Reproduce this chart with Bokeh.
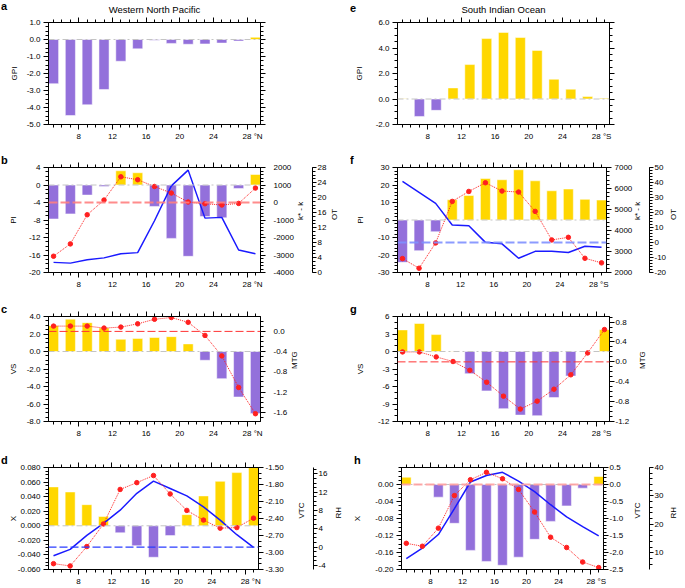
import math
import json
from bokeh.plotting import figure
from bokeh.models import (Range1d, LinearAxis, FixedTicker, Span,
                          CustomJSTickFormatter, PrintfTickFormatter, ColumnDataSource)
from bokeh.layouts import column, row
from bokeh.embed import file_html
from bokeh.resources import INLINE

# ---------------- data ----------------
lat = [5, 7, 9, 11, 13, 15, 17, 19, 21, 23, 25, 27, 29]
lat_ticks = [8, 12, 16, 20, 24, 28]
lat_minor = list(range(5, 30))

titles = ["Western North Pacific", "South Indian Ocean"]

gpi_wnp = [-2.6, -4.47, -3.84, -2.94, -1.28, -0.55, -0.04, -0.23, -0.28, -0.26, -0.21, -0.09, 0.13]
gpi_sio = [0.02, -1.37, -0.89, 0.87, 2.7, 4.74, 5.22, 4.82, 3.81, 1.55, 0.77, 0.19, 0.06]

pi_wnp = [-7.77, -6.6, -2.3, -0.33, 3.25, 2.8, -4.9, -12.2, -16.3, -7.2, -7.5, -0.79, 2.4]
kk_wnp = [-3070, -2366, -700, 140, 1470, 1300, 915, 540, 28, -70, -143, -52, 826]
ot_wnp = [2.7, 2.5, 3.4, 3.9, 5.0, 5.3, 13.8, 23.1, 27.3, 14.5, 14.7, 6.0, 5.0]

pi_sio = [-24.2, -17.5, -6.7, 11.6, 14.0, 23.7, 23.0, 28.7, 22.4, 16.7, 17.7, 11.8, 11.4]
kk_sio = [2663, 2203, 3409, 5385, 5860, 6273, 5879, 5831, 4910, 3551, 3675, 2677, 2459]
ot_sio = [40.7, 33.4, 26.1, 11.7, 11.2, 0.1, -0.9, -10.5, -5.9, -5.9, -6.7, -2.5, -3.2]

vs_wnp = [2.95, 3.7, 3.3, 2.7, 1.4, 1.5, 1.6, 1.7, 0.87, -1.0, -3.1, -5.2, -7.08]
mtg_wnp = [0.105, 0.105, 0.105, 0.066, 0.085, 0.15, 0.24, 0.275, 0.18, -0.08, -0.485, -1.11, -1.63]

vs_sio = [3.7, 4.8, 2.9, 0.05, -3.8, -6.75, -9.8, -10.9, -11.0, -7.9, -4.2, 0.0, 3.75]
mtg_sio = [0.2, 0.2, 0.1, 0.007, -0.17, -0.41, -0.69, -0.95, -0.79, -0.55, -0.26, 0.18, 0.65]

x_wnp = [0.0534, 0.0464, 0.029, 0.0127, -0.0096, -0.0273, -0.0432, -0.0135, 0.0153, 0.041, 0.061, 0.073, 0.082]
vtc_wnp = [-3.197, -3.237, -2.895, -2.496, -1.887, -1.767, -1.642, -1.967, -2.257, -2.428, -2.57, -2.56, -2.394]
rh_wnp = [-1.89, -0.5, 2.56, 5.19, 8.07, 11.76, 14.43, 12.82, 11.19, 8.79, 5.89, 2.71, -0.05]

x_sio = [0.0172, 0.0, -0.0298, -0.0913, -0.155, -0.181, -0.190, -0.171, -0.129, -0.0868, -0.0503, -0.0086, 0.0188]
vtc_sio = [-1.73, -1.816, -1.284, -0.326, 0.141, 0.358, 0.169, -0.144, -0.81, -1.551, -1.853, -2.28, -2.443]
rh_sio = [7.95, 11.6, 16.4, 25.5, 34.9, 37.2, 38.3, 35.2, 31.5, 26.9, 22.6, 19.2, 15.9]

# ---------------- style ----------------
FONT = "Liberation Sans"
FS = "8px"
PURPLE, GOLD = "#9370db", "#ffd700"
RED, BLUE = "#ff2020", "#1a1aff"
NB = "\u00a0"
W = {0: 350, 1: 335}
MBL = {0: 48, 1: 47}
MBR = {0: 90, 1: 76}
FW, FH = 212, 105
ROWS = [dict(h=148, t=19, b=24), dict(h=148, t=19, b=24),
        dict(h=150, t=20, b=25), dict(h=142, t=21, b=16)]
LETTER_X = {0: -47.5, 1: -47.5}


def tick_list(lo, hi, step):
    n = int(round((hi - lo) / step))
    return [round(lo + i * step, 6) for i in range(n + 1)]


def style(ax, ticks, minor, fmt=None, label=None, als=5, standoff=3,
          hidden=False, tick_out=5):
    ax.ticker = FixedTicker(ticks=ticks, minor_ticks=minor)
    ax.axis_line_color = "black"
    ax.axis_line_width = 1
    ax.major_tick_line_color = "black"
    ax.minor_tick_line_color = "black"
    ax.major_tick_out = int(tick_out)
    ax.major_tick_in = 0
    ax.minor_tick_out = 3
    ax.minor_tick_in = 0
    ax.major_label_text_font = FONT
    ax.major_label_text_font_size = FS
    ax.major_label_text_color = "black"
    ax.major_label_standoff = int(round(standoff))
    ax.axis_label_text_font = FONT
    ax.axis_label_text_font_size = FS
    ax.axis_label_text_font_style = "normal"
    ax.axis_label_text_color = "black"
    ax.axis_label_standoff = int(round(als))
    if fmt:
        ax.formatter = PrintfTickFormatter(format=fmt)
    if label:
        ax.axis_label = label
    if hidden:
        ax.formatter = CustomJSTickFormatter(code="return ''")
        ax.major_label_text_font_size = "0px"
        ax.major_label_standoff = 0


def text_axis(p, name, text, mid, standoff):
    """A right-side label that reads bottom-to-top, as on the left."""
    a = LinearAxis(y_range_name=name)
    a.ticker = FixedTicker(ticks=[mid], minor_ticks=[])
    a.formatter = CustomJSTickFormatter(code="return %s;" % json.dumps(text))
    a.major_label_orientation = math.pi / 2
    a.axis_line_color = None
    a.major_tick_line_color = None
    a.minor_tick_line_color = None
    a.major_tick_out = 0
    a.major_tick_in = 0
    a.minor_tick_out = 0
    a.minor_tick_in = 0
    a.major_label_standoff = int(standoff)
    a.major_label_text_font = FONT
    a.major_label_text_font_size = FS
    a.major_label_text_color = "black"
    p.add_layout(a, "right")


def spacer(p, gap):
    a = LinearAxis()
    a.ticker = FixedTicker(ticks=[], minor_ticks=[])
    a.formatter = CustomJSTickFormatter(code="return '';")
    a.axis_line_color = None
    a.major_tick_line_color = None
    a.minor_tick_line_color = None
    a.major_tick_out = int(gap)
    a.major_tick_in = 0
    a.minor_tick_out = 0
    a.minor_tick_in = 0
    a.major_label_standoff = 0
    a.major_label_text_font_size = "0px"
    p.add_layout(a, "right")


def base(colidx, rowidx, yr, yt, ym, yfmt, ylab, als, letter, vals, title=None):
    rg = ROWS[rowidx]
    p = figure(width=W[colidx], height=rg["h"], x_range=Range1d(4.4, 29.6),
               y_range=Range1d(*yr), output_backend="svg", toolbar_location=None,
               x_axis_location=None, y_axis_location=None,
               min_border_left=MBL[colidx], min_border_right=MBR[colidx],
               min_border_top=rg["t"], min_border_bottom=rg["b"])
    p.grid.visible = False
    p.outline_line_color = "black"
    p.outline_line_width = 1
    p.background_fill_color = "white"
    p.border_fill_color = "white"
    hemi = "N" if colidx == 0 else "S"

    ax = LinearAxis()
    style(ax, yt, ym, fmt=yfmt, label=ylab, als=als)
    p.add_layout(ax, "left")
    bx = LinearAxis()
    style(bx, lat_ticks, lat_minor, standoff=2)
    bx.major_label_overrides = {28: NB * 5 + "28 °" + hemi}
    p.add_layout(bx, "below")
    tx = LinearAxis()
    style(tx, lat_ticks, lat_minor, hidden=True)
    if title:
        tx.axis_label = title
        tx.axis_label_text_font_size = "9.5px"
        tx.axis_label_standoff = 3
    p.add_layout(tx, "above")

    src = ColumnDataSource(dict(x=lat, top=vals,
                                color=[GOLD if v > 0 else PURPLE for v in vals]))
    p.vbar(x="x", top="top", bottom=0, width=1.2, fill_color="color",
           line_color="white", line_alpha=0.5, line_width=1, source=src)
    p.add_layout(Span(location=0, dimension="width", line_color="#c4c4c4",
                      line_width=1, line_dash="6 3 2 3"))

    p.title.text = letter
    p.title.align = "left"
    p.title.offset = LETTER_X[colidx]
    p.title.vertical_align = "bottom"
    p.title.standoff = -23 if title else -7.6
    p.title.text_font = FONT
    p.title.text_font_style = "bold"
    p.title.text_font_size = "11px"
    p.title.text_color = "black"
    return p


def mirror_right(p, yt, ym):
    ra = LinearAxis()
    style(ra, yt, ym, hidden=True)
    p.add_layout(ra, "right")


def add_right(p, name, rng, ticks, minor, fmt, label, s1, lab_gap, tick_out=5):
    p.extra_y_ranges[name] = Range1d(*rng)
    a = LinearAxis(y_range_name=name)
    style(a, ticks, minor, fmt=fmt, standoff=s1, tick_out=tick_out)
    p.add_layout(a, "right")
    text_axis(p, name, label, (rng[0] + rng[1]) / 2.0, lab_gap)


def red_dots(p, vals, name):
    p.line(lat, vals, y_range_name=name, line_color=RED, line_width=1, line_dash="1 1")
    p.scatter(lat, vals, y_range_name=name, size=4.5, fill_color=RED, line_color=RED)


def blue_line(p, vals, name):
    p.line(lat, vals, y_range_name=name, line_color=BLUE, line_width=1.5)


def ref_line(p, name, color, width, dash, alpha=1.0):
    p.add_layout(Span(location=0, dimension="width", y_range_name=name, line_color=color,
                      line_width=width, line_dash=dash, line_alpha=alpha))


# ---------------- panels ----------------
# a
pa = base(0, 0, (-5, 1), tick_list(-5, 1, 1), tick_list(-5, 1, 0.25), "%.1f", "GPI", 5,
          "a", gpi_wnp, title=titles[0])
mirror_right(pa, tick_list(-5, 1, 1), tick_list(-5, 1, 0.25))
# e
pe = base(1, 0, (-2, 6), tick_list(-2, 6, 2), tick_list(-2, 6, 0.5), "%.1f", "GPI", 9,
          "e", gpi_sio, title=titles[1])
mirror_right(pe, tick_list(-2, 6, 2), tick_list(-2, 6, 0.5))

# b
pb = base(0, 1, (-20, 4), tick_list(-20, 4, 4), tick_list(-20, 4, 1), "%d", "PI", 8,
          "b", pi_wnp)
pb.extra_y_ranges = {}
add_right(pb, "r1", (-4000, 2000), tick_list(-4000, 2000, 1000), tick_list(-4000, 2000, 200),
          "%d", "k* - k", 8, 4)
spacer(pb, 5)
add_right(pb, "r2", (0, 28), tick_list(0, 28, 4), tick_list(0, 28, 1), "%d", "OT", 1, 5,
          tick_out=4)
ref_line(pb, "r1", "#ff7f7f", 2, "9 3", 0.9)
blue_line(pb, ot_wnp, "r2")
red_dots(pb, kk_wnp, "r1")

# f
pf = base(1, 1, (-30, 30), tick_list(-30, 30, 10), tick_list(-30, 30, 2), "%d", "PI", 10,
          "f", pi_sio)
pf.extra_y_ranges = {}
add_right(pf, "r1", (2000, 7000), tick_list(2000, 7000, 1000), tick_list(2000, 7000, 200),
          "%d", "k* - k", 3, 2)
spacer(pf, 7)
add_right(pf, "r2", (-20, 50), tick_list(-20, 50, 10), tick_list(-20, 50, 2), "%d", "OT", 1, 4,
          tick_out=4)
ref_line(pf, "r2", "#8090ff", 1.8, "9 3", 0.9)
blue_line(pf, ot_sio, "r2")
red_dots(pf, kk_sio, "r1")

# c
pc = base(0, 2, (-8, 4), tick_list(-8, 4, 2), tick_list(-8, 4, 0.5), "%.1f", "VS", 6,
          "c", vs_wnp)
pc.extra_y_ranges = {}
add_right(pc, "r1", (-1.784, 0.295), tick_list(-1.6, 0.0, 0.4), tick_list(-1.7, 0.2, 0.1),
          "%.1f", "MTG", 8, 4)
ref_line(pc, "r1", "#ff3333", 1, "8 3")
red_dots(pc, mtg_wnp, "r1")

# g
pg = base(1, 2, (-12, 6), tick_list(-12, 6, 3), tick_list(-12, 6, 1), "%d", "VS", 10,
          "g", vs_sio)
pg.extra_y_ranges = {}
add_right(pg, "r1", (-1.2, 0.913), tick_list(-1.2, 0.8, 0.4), tick_list(-1.2, 0.9, 0.1),
          "%.1f", "MTG", 1, 10)
ref_line(pg, "r1", "#ff3333", 1, "8 3")
red_dots(pg, mtg_sio, "r1")

# d
pd_ = base(0, 3, (-0.06, 0.08), tick_list(-0.06, 0.08, 0.02), tick_list(-0.06, 0.08, 0.005),
           "%.3f", "X", -3, "d", x_wnp)
pd_.extra_y_ranges = {}
add_right(pd_, "r1", (-3.3, -1.5), tick_list(-3.3, -1.5, 0.3), tick_list(-3.3, -1.5, 0.1),
          "%.2f", "VTC", 2, 15)
add_right(pd_, "r2", (-4.9, 17.4), tick_list(-4, 16, 4), tick_list(-4, 17, 1), "%d", "RH", 1, 8,
          tick_out=4)
ref_line(pd_, "r2", "#2a3cff", 1.2, "8 3")
blue_line(pd_, rh_wnp, "r2")
red_dots(pd_, vtc_wnp, "r1")

# h
ph = base(1, 3, (-0.2, 0.04), tick_list(-0.2, 0.0, 0.04), tick_list(-0.2, 0.04, 0.01),
          "%.2f", "X", 10, "h", x_sio)
ph.extra_y_ranges = {}
add_right(ph, "r1", (-2.5, 0.5), tick_list(-2.5, 0.5, 0.5), tick_list(-2.5, 0.5, 0.1),
          "%.1f", "VTC", 1, 11)
spacer(ph, 5)
add_right(ph, "r2", (4.1, 40), tick_list(10, 40, 10), tick_list(6, 40, 2), "%d", "RH", 1, 7,
          tick_out=4)
ref_line(ph, "r1", "#ffa0a0", 2.2, "9 3", 0.9)
blue_line(ph, rh_sio, "r2")
red_dots(ph, vtc_sio, "r1")

layout = column(row(pa, pe), row(pb, pf), row(pc, pg), row(pd_, ph))

open("out.html", "w").write(file_html(layout, INLINE))
